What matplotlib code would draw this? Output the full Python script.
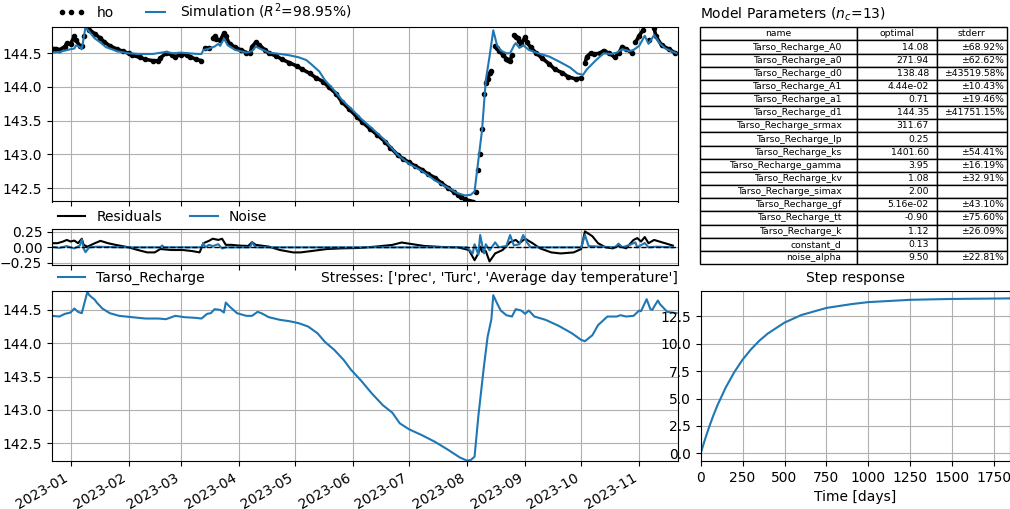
import numpy as np
import pandas as pd
import matplotlib
matplotlib.use("Agg")
import matplotlib.pyplot as plt
import matplotlib.dates as mdates

obs_dates = ["2022-12-22", "2022-12-24", "2022-12-26", "2022-12-29", "2022-12-30", "2023-01-01",
             "2023-01-03", "2023-01-04", "2023-01-06", "2023-01-07", "2023-01-08", "2023-01-10",
             "2023-01-11", "2023-01-14", "2023-01-17", "2023-01-19", "2023-01-22", "2023-01-26",
             "2023-01-29", "2023-02-01", "2023-02-03", "2023-02-07", "2023-02-10", "2023-02-14",
             "2023-02-17", "2023-02-18", "2023-02-21", "2023-02-24", "2023-02-26", "2023-03-01",
             "2023-03-04", "2023-03-06", "2023-03-09", "2023-03-12", "2023-03-14", "2023-03-16",
             "2023-03-18", "2023-03-19", "2023-03-20", "2023-03-22", "2023-03-24", "2023-03-25",
             "2023-03-27", "2023-03-30", "2023-04-02", "2023-04-05", "2023-04-07", "2023-04-08",
             "2023-04-10", "2023-04-12", "2023-04-15", "2023-04-17", "2023-04-21", "2023-04-24",
             "2023-04-28", "2023-05-02", "2023-05-05", "2023-05-09", "2023-05-12", "2023-05-16",
             "2023-05-19", "2023-05-23", "2023-05-26", "2023-05-30", "2023-06-03", "2023-06-06",
             "2023-06-10", "2023-06-14", "2023-06-18", "2023-06-21", "2023-06-25", "2023-06-28",
             "2023-07-01", "2023-07-04", "2023-07-08", "2023-07-11", "2023-07-15", "2023-07-18",
             "2023-07-22", "2023-07-25", "2023-07-27", "2023-07-29", "2023-07-31", "2023-08-02",
             "2023-08-04", "2023-08-06", "2023-08-07", "2023-08-08", "2023-08-09", "2023-08-10",
             "2023-08-11", "2023-08-12", "2023-08-13", "2023-08-14", "2023-08-16", "2023-08-17",
             "2023-08-18", "2023-08-20", "2023-08-22", "2023-08-23", "2023-08-24", "2023-08-25",
             "2023-08-26", "2023-08-27", "2023-08-28", "2023-08-29", "2023-08-30", "2023-09-01",
             "2023-09-02", "2023-09-04", "2023-09-07", "2023-09-10", "2023-09-14", "2023-09-17",
             "2023-09-21", "2023-09-24", "2023-09-28", "2023-10-01", "2023-10-03", "2023-10-04",
             "2023-10-06", "2023-10-08", "2023-10-11", "2023-10-13", "2023-10-16", "2023-10-19",
             "2023-10-21", "2023-10-23", "2023-10-25", "2023-10-28", "2023-10-30", "2023-11-01",
             "2023-11-03", "2023-11-06", "2023-11-09", "2023-11-10", "2023-11-13", "2023-11-17",
             "2023-11-20"]
obs_head = [144.57, 144.57, 144.55, 144.60, 144.65, 144.64,
            144.75, 144.69, 144.61, 144.61, 144.75, 144.89,
            144.85, 144.79, 144.72, 144.67, 144.61, 144.56,
            144.53, 144.50, 144.47, 144.44, 144.41, 144.39,
            144.39, 144.43, 144.50, 144.48, 144.45, 144.48,
            144.48, 144.45, 144.41, 144.39, 144.58, 144.58,
            144.72, 144.75, 144.71, 144.69, 144.80, 144.75,
            144.64, 144.59, 144.55, 144.51, 144.50, 144.60,
            144.66, 144.62, 144.55, 144.50, 144.46, 144.41,
            144.36, 144.31, 144.26, 144.20, 144.14, 144.08,
            144.00, 143.90, 143.78, 143.67, 143.56, 143.48,
            143.38, 143.29, 143.19, 143.10, 142.99, 142.93,
            142.88, 142.83, 142.77, 142.71, 142.65, 142.58,
            142.50, 142.44, 142.40, 142.36, 142.33, 142.31,
            142.30, 142.44, 142.77, 143.00, 143.38, 143.89,
            144.06, 144.12, 144.20, 144.23, 144.61, 144.58,
            144.54, 144.48, 144.42, 144.40, 144.38, 144.48,
            144.77, 144.74, 144.72, 144.68, 144.64, 144.74,
            144.66, 144.59, 144.50, 144.43, 144.34, 144.26,
            144.21, 144.15, 144.12, 144.13, 144.35, 144.45,
            144.50, 144.49, 144.50, 144.54, 144.50, 144.44,
            144.50, 144.60, 144.56, 144.51, 144.66, 144.76,
            144.84, 144.69, 144.87, 144.75, 144.62, 144.56,
            144.51]

# simulation
sim_dates = ["2022-12-22", "2022-12-26", "2022-12-29", "2023-01-01", "2023-01-03", "2023-01-04",
             "2023-01-06", "2023-01-07", "2023-01-09", "2023-01-11", "2023-01-14", "2023-01-17",
             "2023-01-20", "2023-01-26", "2023-02-01", "2023-02-07", "2023-02-14", "2023-02-21",
             "2023-02-25", "2023-03-01", "2023-03-05", "2023-03-10", "2023-03-12", "2023-03-13",
             "2023-03-15", "2023-03-16", "2023-03-19", "2023-03-21", "2023-03-22", "2023-03-24",
             "2023-03-26", "2023-03-30", "2023-04-05", "2023-04-08", "2023-04-10", "2023-04-13",
             "2023-04-17", "2023-04-23", "2023-04-28", "2023-05-03", "2023-05-07", "2023-05-10",
             "2023-05-14", "2023-05-17", "2023-05-21", "2023-05-26", "2023-06-01", "2023-06-06",
             "2023-06-11", "2023-06-18", "2023-06-25", "2023-07-01", "2023-07-08", "2023-07-15",
             "2023-07-22", "2023-07-27", "2023-07-31", "2023-08-03", "2023-08-05", "2023-08-09",
             "2023-08-11", "2023-08-13", "2023-08-15", "2023-08-17", "2023-08-19", "2023-08-22",
             "2023-08-24", "2023-08-26", "2023-08-27", "2023-08-29", "2023-08-31", "2023-09-03",
             "2023-09-08", "2023-09-14", "2023-09-19", "2023-09-25", "2023-09-29", "2023-10-02",
             "2023-10-04", "2023-10-09", "2023-10-13", "2023-10-17", "2023-10-20", "2023-10-23",
             "2023-10-27", "2023-10-29", "2023-11-01", "2023-11-04", "2023-11-06", "2023-11-09",
             "2023-11-12", "2023-11-15", "2023-11-21"]
sim_head = [144.51, 144.52, 144.54, 144.56, 144.57, 144.62,
            144.59, 144.56, 144.89, 144.82, 144.72, 144.66,
            144.59, 144.53, 144.50, 144.49, 144.49, 144.52,
            144.50, 144.51, 144.50, 144.49, 144.49, 144.55,
            144.56, 144.57, 144.60, 144.64, 144.61, 144.72,
            144.62, 144.55, 144.51, 144.53, 144.60, 144.56,
            144.51, 144.49, 144.47, 144.44, 144.40, 144.33,
            144.23, 144.10, 143.98, 143.81, 143.65, 143.51,
            143.39, 143.21, 142.99, 142.86, 142.75, 142.61,
            142.50, 142.42, 142.39, 142.40, 142.45, 143.36,
            144.10, 144.45, 144.84, 144.62, 144.54, 144.50,
            144.50, 144.61, 144.65, 144.58, 144.62, 144.55,
            144.50, 144.45, 144.38, 144.29, 144.20, 144.18,
            144.26, 144.40, 144.50, 144.49, 144.51, 144.56,
            144.53, 144.55, 144.61, 144.76, 144.64, 144.77,
            144.65, 144.57, 144.50]

# residuals
res_dates = ["2022-12-22", "2022-12-25", "2022-12-28", "2022-12-30", "2023-01-01", "2023-01-03",
             "2023-01-05", "2023-01-07", "2023-01-08", "2023-01-10", "2023-01-14", "2023-01-17",
             "2023-01-21", "2023-01-25", "2023-02-01", "2023-02-06", "2023-02-11", "2023-02-15",
             "2023-02-18", "2023-02-24", "2023-03-02", "2023-03-07", "2023-03-11", "2023-03-13",
             "2023-03-16", "2023-03-18", "2023-03-21", "2023-03-23", "2023-03-25", "2023-03-28",
             "2023-04-01", "2023-04-06", "2023-04-08", "2023-04-10", "2023-04-17", "2023-04-23",
             "2023-04-30", "2023-05-04", "2023-05-11", "2023-05-18", "2023-05-26", "2023-06-04",
             "2023-06-13", "2023-06-22", "2023-06-27", "2023-07-03", "2023-07-09", "2023-07-18",
             "2023-07-27", "2023-08-02", "2023-08-05", "2023-08-07", "2023-08-08", "2023-08-09",
             "2023-08-11", "2023-08-13", "2023-08-16", "2023-08-20", "2023-08-24", "2023-08-27",
             "2023-08-29", "2023-09-01", "2023-09-05", "2023-09-09", "2023-09-15", "2023-09-20",
             "2023-09-27", "2023-10-01", "2023-10-03", "2023-10-07", "2023-10-10", "2023-10-14",
             "2023-10-18", "2023-10-21", "2023-10-25", "2023-10-29", "2023-10-31", "2023-11-02",
             "2023-11-04", "2023-11-06", "2023-11-09", "2023-11-13", "2023-11-16", "2023-11-19"]
res_vals = [0.067, 0.067, 0.094, 0.12, 0.094, 0.11,
            0.067, 0.14, 0.04, 0.01, 0.067, 0.105,
            0.067, 0.04, 0.0, -0.044, -0.083, -0.083,
            -0.028, -0.044, -0.044, -0.061, -0.083, 0.067,
            0.105, 0.14, 0.12, 0.14, 0.04, 0.04,
            0.028, 0.022, 0.083, 0.04, 0.011, -0.044,
            -0.083, -0.083, -0.056, -0.028, -0.017, -0.011,
            0.011, 0.039, 0.078, 0.05, 0.022, 0.006,
            0.0, -0.044, -0.21, -0.10, 0.011, -0.072,
            -0.061, -0.23, -0.10, -0.044, 0.083, 0.12,
            0.067, 0.14, 0.067, -0.017, -0.083, -0.10,
            -0.083, -0.028, 0.26, 0.18, 0.067, 0.0,
            -0.017, 0.028, -0.017, 0.12, 0.15, 0.094,
            0.167, 0.067, 0.12, 0.083, 0.056, 0.028]

# noise
noise_dates = ["2022-12-22", "2022-12-26", "2022-12-30", "2023-01-03", "2023-01-06", "2023-01-07",
               "2023-01-08", "2023-01-09", "2023-01-11", "2023-01-15", "2023-01-28", "2023-02-18",
               "2023-02-19", "2023-02-20", "2023-03-12", "2023-03-13", "2023-03-14", "2023-03-16",
               "2023-03-18", "2023-03-21", "2023-03-23", "2023-03-25", "2023-04-07", "2023-04-08",
               "2023-04-10", "2023-05-18", "2023-07-02", "2023-08-01", "2023-08-04", "2023-08-05",
               "2023-08-07", "2023-08-08", "2023-08-10", "2023-08-11", "2023-08-13", "2023-08-16",
               "2023-08-18", "2023-08-22", "2023-08-24", "2023-08-26", "2023-08-29", "2023-08-31",
               "2023-09-02", "2023-09-04", "2023-10-01", "2023-10-03", "2023-10-05", "2023-10-19",
               "2023-10-21", "2023-10-23", "2023-10-27", "2023-10-30", "2023-10-31", "2023-11-04",
               "2023-11-06", "2023-11-10", "2023-11-19"]
noise_vals = [0.01, -0.01, 0.02, -0.02, 0.03, 0.13,
              -0.02, -0.08, 0.0, 0.01, 0.0, 0.0,
              0.03, 0.0, 0.0, 0.07, 0.0, 0.04,
              0.02, 0.05, -0.02, 0.0, 0.0, 0.08,
              0.0, 0.0, 0.0, 0.0, -0.10, 0.05,
              -0.12, 0.20, -0.10, 0.05, -0.05, 0.08,
              0.0, 0.02, 0.20, 0.03, 0.05, 0.20,
              0.08, 0.0, 0.0, 0.20, 0.02, 0.0,
              0.06, 0.0, 0.04, 0.08, 0.0, 0.07,
              0.0, 0.01, 0.0]

# contribution Tarso_Recharge
con_dates = ["2022-12-22", "2022-12-26", "2022-12-29", "2023-01-01", "2023-01-03", "2023-01-05",
             "2023-01-07", "2023-01-10", "2023-01-11", "2023-01-14", "2023-01-15", "2023-01-18",
             "2023-01-22", "2023-01-27", "2023-02-03", "2023-02-10", "2023-02-17", "2023-02-21",
             "2023-02-26", "2023-03-03", "2023-03-09", "2023-03-12", "2023-03-15", "2023-03-17",
             "2023-03-19", "2023-03-22", "2023-03-24", "2023-03-25", "2023-03-27", "2023-03-31",
             "2023-04-05", "2023-04-08", "2023-04-11", "2023-04-13", "2023-04-17", "2023-04-23",
             "2023-04-28", "2023-05-03", "2023-05-08", "2023-05-13", "2023-05-17", "2023-05-22",
             "2023-05-27", "2023-05-31", "2023-06-05", "2023-06-11", "2023-06-17", "2023-06-22",
             "2023-06-26", "2023-07-01", "2023-07-08", "2023-07-15", "2023-07-22", "2023-07-28",
             "2023-08-01", "2023-08-03", "2023-08-05", "2023-08-07", "2023-08-10", "2023-08-12",
             "2023-08-14", "2023-08-15", "2023-08-17", "2023-08-19", "2023-08-22", "2023-08-25",
             "2023-08-27", "2023-08-30", "2023-09-01", "2023-09-03", "2023-09-06", "2023-09-12",
             "2023-09-19", "2023-09-26", "2023-10-01", "2023-10-03", "2023-10-07", "2023-10-10",
             "2023-10-15", "2023-10-20", "2023-10-22", "2023-10-25", "2023-10-29", "2023-11-01",
             "2023-11-02", "2023-11-05", "2023-11-07", "2023-11-08", "2023-11-11", "2023-11-12",
             "2023-11-16", "2023-11-21"]
con_vals = [144.41, 144.40, 144.44, 144.46, 144.52, 144.47,
            144.45, 144.77, 144.72, 144.65, 144.61, 144.52,
            144.45, 144.41, 144.39, 144.37, 144.37, 144.36,
            144.41, 144.39, 144.38, 144.37, 144.44, 144.45,
            144.51, 144.50, 144.46, 144.61, 144.55, 144.45,
            144.41, 144.41, 144.47, 144.45, 144.39, 144.35,
            144.33, 144.30, 144.25, 144.15, 144.02, 143.90,
            143.75, 143.60, 143.45, 143.25, 143.07, 142.96,
            142.80, 142.71, 142.62, 142.52, 142.40, 142.29,
            142.24, 142.25, 142.30, 142.90, 143.65, 144.10,
            144.36, 144.72, 144.60, 144.49, 144.42, 144.40,
            144.51, 144.49, 144.44, 144.49, 144.40, 144.35,
            144.26, 144.15, 144.05, 144.03, 144.12, 144.27,
            144.40, 144.40, 144.42, 144.40, 144.41, 144.49,
            144.48, 144.66, 144.51, 144.50, 144.64, 144.59,
            144.47, 144.45]

# step response
step_t = [0, 25, 50, 75, 100, 150, 200, 250, 300, 350, 400, 500, 600, 750, 900, 1000, 1250, 1500, 1850]
step_v = [0.0, 1.24, 2.39, 3.44, 4.39, 6.03, 7.40, 8.55, 9.49, 10.28, 10.93, 11.93, 12.62, 13.27,
          13.62, 13.80, 14.01, 14.09, 14.14]

# parameter table
par_names = ["Tarso_Recharge_A0", "Tarso_Recharge_a0", "Tarso_Recharge_d0", "Tarso_Recharge_A1",
             "Tarso_Recharge_a1", "Tarso_Recharge_d1", "Tarso_Recharge_srmax", "Tarso_Recharge_lp",
             "Tarso_Recharge_ks", "Tarso_Recharge_gamma", "Tarso_Recharge_kv", "Tarso_Recharge_simax",
             "Tarso_Recharge_gf", "Tarso_Recharge_tt", "Tarso_Recharge_k", "constant_d", "noise_alpha"]
par_opt = ["14.08", "271.94", "138.48", "4.44e-02", "0.71", "144.35", "311.67", "0.25",
           "1401.60", "3.95", "1.08", "2.00", "5.16e-02", "-0.90", "1.12", "0.13", "9.50"]
par_err = ["\u00b168.92%", "\u00b162.62%", "\u00b143519.58%", "\u00b110.43%", "\u00b119.46%",
           "\u00b141751.15%", "", "", "\u00b154.41%", "\u00b116.19%", "\u00b132.91%", "",
           "\u00b143.10%", "\u00b175.60%", "\u00b126.09%", "", "\u00b122.81%"]

W, H = 1010, 509
fig = plt.figure(figsize=(W / 100, H / 100), dpi=100)


def box(l, t, r, b):
    return [l / W, 1 - b / H, (r - l) / W, (b - t) / H]


ax1 = fig.add_axes(box(52, 27, 677.5, 201.5))
ax2 = fig.add_axes(box(52, 229.5, 677.5, 264.5), sharex=ax1)
ax3 = fig.add_axes(box(52, 290.5, 677.5, 461), sharex=ax1)
ax_t = fig.add_axes(box(700, 27.3, 1006.7, 264))
ax4 = fig.add_axes(box(700.7, 290.5, 1010, 461))

# observations: dots, joined in dense runs so they look like the daily record
t_obs = pd.to_datetime(obs_dates)
h_obs = np.array(obs_head)
xs, ys = [t_obs[0]], [h_obs[0]]
for i in range(1, len(h_obs)):
    gap = (t_obs[i] - t_obs[i - 1]).days
    if gap > 4 or abs(h_obs[i] - h_obs[i - 1]) > 0.13:
        xs.append(t_obs[i - 1] + (t_obs[i] - t_obs[i - 1]) / 2)
        ys.append(np.nan)
    xs.append(t_obs[i])
    ys.append(h_obs[i])
ax1.plot(xs, ys, color="k", lw=2.6, solid_capstyle="round")
ax1.plot(t_obs, h_obs, ls="", marker=".", color="k", markersize=6, label="ho")
ax1.plot(pd.to_datetime(sim_dates), sim_head, color="C0", lw=1.5,
         label="Simulation ($R^2$=98.95%)")
ax1.set_ylim(142.30, 144.89)
ax1.set_yticks([142.5, 143.0, 143.5, 144.0, 144.5])
ax1.grid(True)
ax1.legend(loc=(0, 1), ncol=2, frameon=False, numpoints=3)
plt.setp(ax1.get_xticklabels(), visible=False)

ax2.plot(pd.to_datetime(res_dates), res_vals, color="k", lw=1.5, label="Residuals")
ax2.plot(pd.to_datetime(noise_dates), noise_vals, color="C0", lw=1.5, label="Noise")
ax2.axhline(0, color="k", ls="--", lw=1)
ax2.set_ylim(-0.28, 0.29)
ax2.set_yticks([-0.25, 0.0, 0.25])
ax2.grid(True)
ax2.legend(loc=(0, 1), ncol=2, frameon=False)
plt.setp(ax2.get_xticklabels(), visible=False)

ax3.plot(pd.to_datetime(con_dates), con_vals, color="C0", lw=1.5, label="Tarso_Recharge")
ax3.set_ylim(142.235, 144.79)
ax3.set_yticks([142.5, 143.0, 143.5, 144.0, 144.5])
ax3.grid(True)
ax3.legend(loc=(0, 1), frameon=False)
ax3.set_title("Stresses: ['prec', 'Turc', 'Average day temperature']", loc="right", fontsize=10)
ax3.xaxis.set_major_locator(mdates.MonthLocator())
ax3.xaxis.set_major_formatter(mdates.DateFormatter("%Y-%m"))
for lab in ax3.get_xticklabels():
    lab.set_rotation(30)
    lab.set_ha("right")
ax1.set_xlim(pd.Timestamp("2022-12-22 02:00"), pd.Timestamp("2023-11-21 12:00"))

ax4.plot(step_t, step_v, color="C0", lw=1.5)
ax4.set_xlim(0, 1845)
ax4.set_ylim(-0.7, 14.86)
ax4.set_xticks([0, 250, 500, 750, 1000, 1250, 1500, 1750])
ax4.set_yticks([0.0, 2.5, 5.0, 7.5, 10.0, 12.5])
ax4.grid(True)
ax4.set_title("Step response", fontsize=10)
ax4.set_xlabel("Time [days]")

ax_t.axis("off")
rows = [[n, o, e] for n, o, e in zip(par_names, par_opt, par_err)]
tab = ax_t.table(cellText=rows, colLabels=["name", "optimal", "stderr"],
                 bbox=[0, 0, 1, 1], colWidths=[0.513, 0.259, 0.228])
tab.auto_set_font_size(False)
tab.set_fontsize(6.7)
for (r, c), cell in tab.get_celld().items():
    if c == 2:
        cell.PAD = 0.04
ax_t.set_title("Model Parameters ($n_c$=13)", loc="left", fontsize=10)

fig.savefig("out.png", dpi=100)
